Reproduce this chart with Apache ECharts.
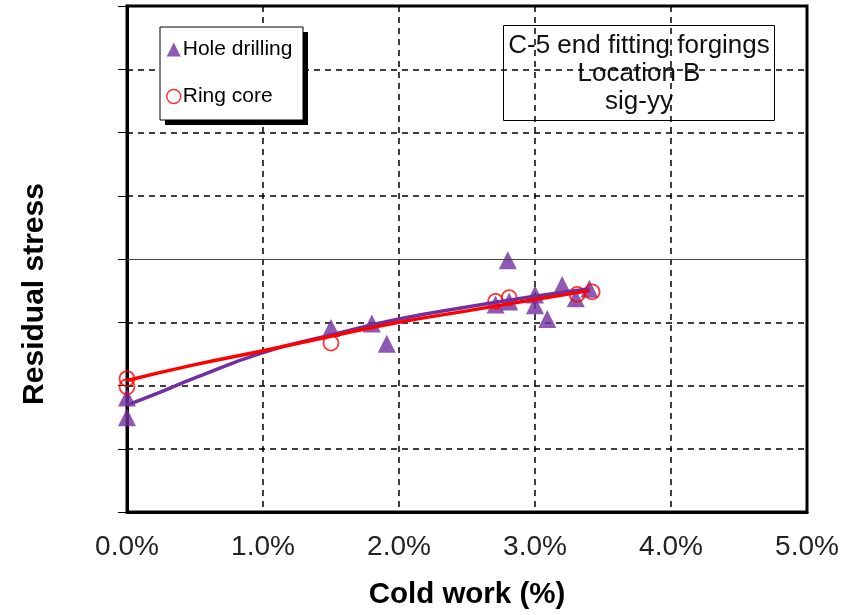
<!DOCTYPE html>
<html>
<head>
<meta charset="utf-8">
<script src="https://cdn.jsdelivr.net/npm/echarts@6/dist/echarts.min.js"></script>
<style>
html,body{margin:0;padding:0;background:#fff;overflow:hidden;width:100%;height:100%;}
#c{width:857px;height:615px;display:block;}
</style>
</head>
<body><div id="c"></div><script>
// Cold work (%) and residual stress (relative units, no labels shown)
const holeX = [0, 0, 1.5, 1.8, 1.91, 2.71, 2.8, 2.81, 3.0, 3.0, 3.09, 3.2, 3.3, 3.4];
const holeY = [1.50, 1.81, 2.91, 2.98, 2.66, 3.28, 3.98, 3.33, 3.44, 3.27, 3.05, 3.59, 3.38, 3.53];
const ringX = [0, 0, 1.5, 2.71, 2.81, 3.31, 3.42];
const ringY = [2.11, 1.98, 2.67, 3.33, 3.39, 3.44, 3.48];
// trend curves
const holeTrendX = [0, 0.25, 0.5, 1.0, 1.5, 2.0, 2.5, 3.0, 3.4];
const holeTrendY = [1.69, 1.90, 2.12, 2.52, 2.80, 3.05, 3.24, 3.41, 3.53];
const ringTrendX = [0, 0.5, 1.0, 1.5, 2.0, 2.5, 3.0, 3.4];
const ringTrendY = [2.08, 2.33, 2.55, 2.78, 3.00, 3.18, 3.36, 3.50];
const xTicks = [0, 1, 2, 3, 4, 5];
const titleLines = ['C-5 end fitting forgings', 'Location B', 'sig-yy'];
const yTitle = 'Residual stress';

const pairs = (xs, ys) => xs.map((x, i) => [x, ys[i]]);
const FONT = '"Liberation Sans", Arial, sans-serif';
const PURPLE = '#7030A0';
const RED = '#FF0000';

const chart = echarts.init(document.getElementById('c'), null, { width: 857, height: 615 });
chart.setOption({
  animation: false,
  backgroundColor: '#fff',
  textStyle: { fontFamily: FONT },
  grid: { left: 127, top: 6, width: 680, height: 512, show: true, borderColor: '#000', borderWidth: 3, backgroundColor: 'transparent' },
  legend: {
    orient: 'vertical', left: 166, top: 39,
    padding: 0, itemGap: 26, itemWidth: 14, itemHeight: 14, z: 20,
    textStyle: { fontFamily: FONT, fontSize: 21, color: '#000', padding: [0, 0, 0, -3] },
    data: [
      { name: 'Hole drilling', icon: 'triangle', itemStyle: { color: PURPLE } },
      { name: 'Ring core', icon: 'circle', itemStyle: { color: 'transparent', borderColor: RED, borderWidth: 1.5 } }
    ]
  },
  xAxis: {
    type: 'value', min: 0, max: 5, interval: 1,
    name: 'Cold work (%)', nameLocation: 'middle', nameGap: 68,
    nameTextStyle: { fontFamily: FONT, fontSize: 29.5, fontWeight: 'bold', color: '#000' },
    axisLine: { show: true, lineStyle: { color: '#000', width: 3 } },
    axisTick: { show: false },
    axisLabel: { margin: 21, fontFamily: FONT, fontSize: 28, color: '#222', formatter: v => v.toFixed(1) + '%' },
    splitLine: { show: true, lineStyle: { color: '#000', width: 1.5, type: [6, 5] } },
    data: xTicks
  },
  yAxis: {
    type: 'value', min: 0, max: 8, interval: 1,
    axisLine: { show: true, lineStyle: { color: '#000', width: 3 } },
    axisTick: { show: true, inside: false, length: 9, lineStyle: { color: '#000', width: 1 } },
    axisLabel: { show: false },
    splitLine: { show: true, lineStyle: { color: ['#000', '#000', '#000', '#000', 'transparent', '#000', '#000', '#000', '#000'], width: 1.5, type: [6, 5] } }
  },
  graphic: [
    { type: 'text', x: 35, y: 294, rotation: Math.PI / 2, z: 10,
      style: { text: yTitle, fontFamily: FONT, fontSize: 30, fontWeight: 'bold', fill: '#000', align: 'center', verticalAlign: 'middle' } },
    { type: 'rect', z: 10, shape: { x: 165, y: 32, width: 143, height: 93 }, style: { fill: '#000' } },
    { type: 'rect', z: 11, shape: { x: 160, y: 27, width: 143, height: 93 }, style: { fill: '#fff', stroke: '#000', lineWidth: 1 } },
    {
      type: 'group', left: 503, top: 25, z: 10,
      children: [
        { type: 'rect', shape: { x: 0, y: 0, width: 271, height: 95 }, style: { fill: '#fff', stroke: '#000', lineWidth: 1 } },
        { type: 'text', x: 135.5, y: 6, style: { text: titleLines.join('\n'), fontFamily: FONT, fontSize: 26, lineHeight: 28, align: 'center', verticalAlign: 'top', fill: '#111' } }
      ]
    }
  ],
  series: [
    {
      name: 'Hole drilling', type: 'scatter', symbol: 'triangle', symbolSize: 18,
      itemStyle: { color: PURPLE }, data: pairs(holeX, holeY), z: 3,
      markLine: { silent: true, symbol: 'none', label: { show: false }, lineStyle: { color: '#444', width: 1, type: 'solid' }, data: [{ yAxis: 4 }] }
    },
    {
      name: 'Ring core', type: 'scatter', symbol: 'circle', symbolSize: 15,
      itemStyle: { color: 'transparent', borderColor: RED, borderWidth: 1.8 }, data: pairs(ringX, ringY), z: 4
    },
    {
      name: 'hole trend', type: 'line', smooth: true, showSymbol: false, z: 5,
      lineStyle: { color: PURPLE, width: 3.5 }, data: pairs(holeTrendX, holeTrendY)
    },
    {
      name: 'ring trend', type: 'line', smooth: true, showSymbol: false, z: 6,
      lineStyle: { color: RED, width: 3.5 }, data: pairs(ringTrendX, ringTrendY)
    }
  ]
});
</script></body>
</html>
